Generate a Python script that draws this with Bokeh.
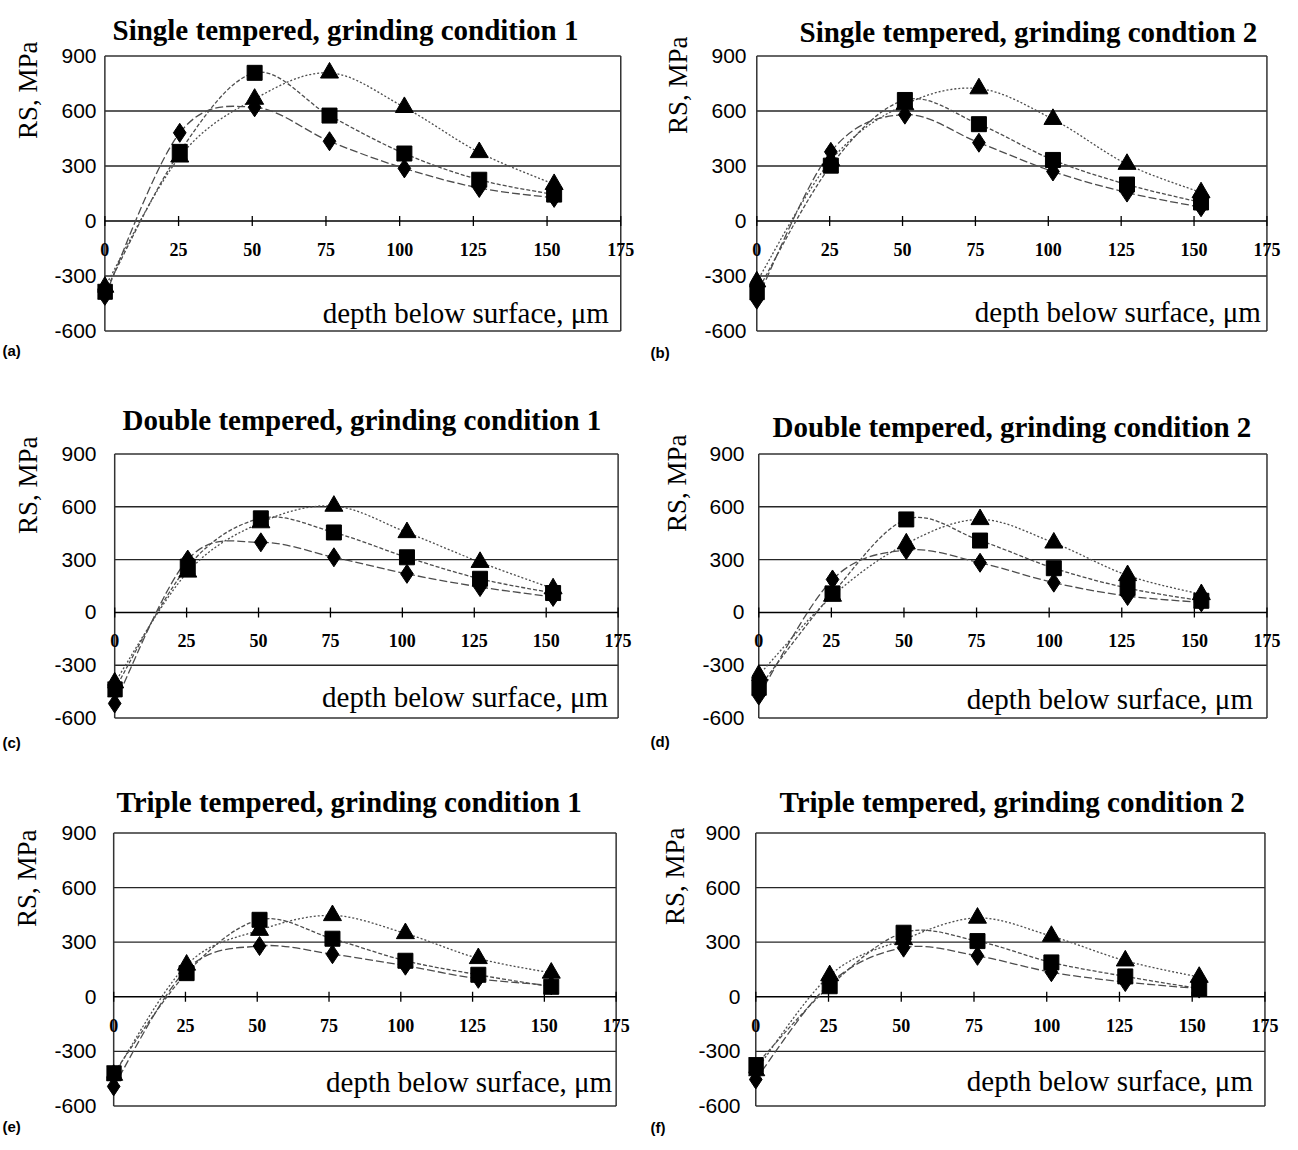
import math
from bokeh.plotting import figure
from bokeh.layouts import column, row
from bokeh.models import Range1d, FixedTicker, Title, Label, LabelSet, ColumnDataSource
from bokeh.embed import file_html
from bokeh.resources import INLINE

# ---------------- data ----------------
depth_um = [0, 25.4, 50.8, 76.2, 101.6, 127.0, 152.4]
x_ticks = [0, 25, 50, 75, 100, 125, 150, 175]
y_ticks = [-600, -300, 0, 300, 600, 900]

titles = [
    "Single tempered, grinding condition 1",
    "Single tempered, grinding condtion 2",
    "Double tempered, grinding condition 1",
    "Double tempered, grinding condition 2",
    "Triple tempered, grinding condition 1",
    "Triple tempered, grinding condition 2",
]
panel_tags = ["(a)", "(b)", "(c)", "(d)", "(e)", "(f)"]
y_label = "RS, MPa"
x_label = "depth below surface, \u03bcm"

a_diamond = [-408, 481, 620, 435, 287, 180, 126]
a_square = [-386, 377, 808, 575, 368, 225, 144]
a_triangle = [-360, 350, 665, 808, 620, 374, 200]

b_diamond = [-429, 377, 580, 427, 270, 155, 75]
b_square = [-388, 302, 660, 528, 333, 199, 101]
b_triangle = [-331, 330, 635, 722, 555, 310, 155]

c_diamond = [-517, 300, 398, 313, 219, 144, 88]
c_square = [-437, 260, 534, 454, 313, 191, 110]
c_triangle = [-399, 230, 510, 604, 454, 285, 135]

d_diamond = [-472, 187, 354, 282, 169, 93, 57]
d_square = [-428, 108, 528, 408, 251, 138, 66]
d_triangle = [-356, 93, 390, 528, 395, 210, 102]

e_diamond = [-492, 150, 279, 234, 171, 99, 63]
e_square = [-420, 130, 423, 319, 198, 121, 55]
e_triangle = [-430, 175, 366, 447, 348, 211, 131]

f_diamond = [-454, 72, 270, 225, 135, 81, 45]
f_square = [-375, 58, 352, 306, 189, 112, 45]
f_triangle = [-405, 117, 315, 433, 333, 198, 108]

series = [
    (a_diamond, a_square, a_triangle),
    (b_diamond, b_square, b_triangle),
    (c_diamond, c_square, c_triangle),
    (d_diamond, d_square, d_triangle),
    (e_diamond, e_square, e_triangle),
    (f_diamond, f_square, f_triangle),
]

# ---------------- layout (page pixel positions) ----------------
# ox/oy: figure origin; L,R,T,B: plot box; tlx/tbase: title left x / baseline;
# ylr/ylt: y-label right / top; ytr: y tick label right; tagt: tag top;
# xr/xb: x-label right / baseline
layout = [
    dict(ox=0, oy=0, w=648, h=383, L=104, R=620, T=55, B=333, tlx=112, tbase=32,
         ylr=39, ylt=42, ytr=96, tagt=347, xr=608, xb=325),
    dict(ox=648, oy=0, w=648, h=383, L=756, R=1266, T=50, B=331, tlx=799, tbase=32,
         ylr=689, ylt=32, ytr=746, tagt=348, xr=1260, xb=322),
    dict(ox=0, oy=383, w=648, h=380, L=114, R=618, T=453, B=719, tlx=122, tbase=423,
         ylr=39, ylt=437, ytr=96, tagt=743, xr=608, xb=708),
    dict(ox=648, oy=383, w=648, h=380, L=758, R=1266, T=440, B=718, tlx=772, tbase=421,
         ylr=689, ylt=422, ytr=744, tagt=740, xr=1252, xb=709),
    dict(ox=0, oy=763, w=648, h=381, L=113, R=616, T=832, B=1109, tlx=116, tbase=807,
         ylr=37, ylt=830, ytr=96, tagt=1124, xr=612, xb=1095),
    dict(ox=648, oy=763, w=648, h=381, L=755, R=1264, T=829, B=1107, tlx=779, tbase=805,
         ylr=689, ylt=825, ytr=740, tagt=1124, xr=1252, xb=1092),
]

XPAD_L, XPAD_R, YPAD = 2.5, 5.0, 8.0
SERIF = "Liberation Serif"
SANS = "Liberation Sans"
LINE_COL = "#4d4d4d"
YTICK_W = 42  # approx width of "-600" at 21px
TITLE_H = 36  # approx height the 29px title needs


def smooth_segments(xs, ys):
    n = len(xs)
    out = dict(x0=[], y0=[], x1=[], y1=[], cx0=[], cy0=[], cx1=[], cy1=[])
    for i in range(n - 1):
        ip = max(i - 1, 0)
        inn = min(i + 2, n - 1)
        out["x0"].append(xs[i]); out["y0"].append(ys[i])
        out["x1"].append(xs[i + 1]); out["y1"].append(ys[i + 1])
        out["cx0"].append(xs[i] + (xs[i + 1] - xs[ip]) / 6.0)
        out["cy0"].append(ys[i] + (ys[i + 1] - ys[ip]) / 6.0)
        out["cx1"].append(xs[i + 1] - (xs[inn] - xs[i]) / 6.0)
        out["cy1"].append(ys[i + 1] - (ys[inn] - ys[i]) / 6.0)
    return ColumnDataSource(out)


def make_panel(k):
    G = layout[k]
    ox, oy, w, h = G["ox"], G["oy"], G["w"], G["h"]
    xspan = x_ticks[-1] - x_ticks[0]
    yspan = y_ticks[-1] - y_ticks[0]
    ppx = (G["R"] - G["L"]) / xspan
    ppy = (G["B"] - G["T"]) / yspan
    fl = round(G["L"] - ox - XPAD_L * ppx)
    fr = round(G["R"] - ox + XPAD_R * ppx)
    ft = round(G["T"] - oy - YPAD * ppy)
    fb = round(G["B"] - oy + YPAD * ppy)

    p = figure(width=w, height=h, output_backend="svg", toolbar_location=None,
               x_range=Range1d(x_ticks[0] - XPAD_L, x_ticks[-1] + XPAD_R),
               y_range=Range1d(y_ticks[0] - YPAD, y_ticks[-1] + YPAD),
               min_border_left=fl, min_border_right=w - fr,
               min_border_top=ft, min_border_bottom=h - fb,
               title=titles[k])
    p.background_fill_color = "white"
    p.border_fill_color = "white"
    p.outline_line_color = None

    # main title
    p.title.align = "left"
    p.title.offset = (G["tlx"] - ox) - fl
    p.title.standoff = max(0, min(ft - (G["tbase"] - oy) + 4, ft - TITLE_H))
    p.title.text_font = SERIF
    p.title.text_font_size = "29px"
    p.title.text_font_style = "bold"
    p.title.text_color = "black"

    # y axis (left)
    ylst = max(0, fl - (G["ytr"] - ox))
    p.yaxis.ticker = FixedTicker(ticks=y_ticks)
    p.yaxis.major_label_overrides = {t: str(t) for t in y_ticks}
    p.yaxis.axis_line_color = None
    p.yaxis.major_tick_line_color = None
    p.yaxis.major_tick_in = 0
    p.yaxis.major_tick_out = 0
    p.yaxis.minor_tick_line_color = None
    p.yaxis.minor_tick_out = 0
    p.yaxis.major_label_standoff = ylst
    p.yaxis.major_label_text_font = SANS
    p.yaxis.major_label_text_font_size = "21px"
    p.yaxis.major_label_text_color = "black"

    # x axis drawn along the zero line inside the box
    p.xaxis.visible = False
    p.xgrid.grid_line_color = None
    p.ygrid.grid_line_color = None

    # box and horizontal rules
    inner = [t for t in y_ticks if t not in (0, y_ticks[0], y_ticks[-1])]
    p.segment(x0=[x_ticks[0]] * len(inner), x1=[x_ticks[-1]] * len(inner), y0=inner, y1=inner,
              line_color="#262626", line_width=1.3)
    edges = [y_ticks[0], y_ticks[-1]]
    p.segment(x0=[x_ticks[0]] * 2, x1=[x_ticks[-1]] * 2, y0=edges, y1=edges,
              line_color="#333333", line_width=1.5)
    p.segment(x0=[x_ticks[0], x_ticks[-1]], x1=[x_ticks[0], x_ticks[-1]],
              y0=[y_ticks[0]] * 2, y1=[y_ticks[-1]] * 2, line_color="#333333", line_width=1.5)
    p.segment(x0=[x_ticks[0]], x1=[x_ticks[-1]], y0=[0], y1=[0], line_color="black", line_width=1.5)
    p.scatter(x=x_ticks, y=[0] * len(x_ticks), marker="dash", angle=math.pi / 2, size=10,
              line_color="black", line_width=1.3)
    tick_src = ColumnDataSource(dict(x=x_ticks, y=[0] * len(x_ticks),
                                     t=[str(v) for v in x_ticks]))
    p.add_layout(LabelSet(x="x", y="y", text="t", source=tick_src, y_offset=-22,
                          text_align="center", text_baseline="top", text_font=SERIF,
                          text_font_size="18px", text_font_style="bold",
                          text_color="black"))

    # y-axis title on the left, top aligned
    axis_left = fl - ylst - YTICK_W
    yst = max(0, axis_left - (G["ylr"] - ox - 2))
    p.add_layout(Title(text=y_label, align="right", offset=(G["ylt"] - oy) - ft - 1, standoff=yst,
                       text_font=SERIF, text_font_size="27px", text_font_style="normal",
                       text_color="black"), "left")
    # panel tag
    p.add_layout(Title(text=panel_tags[k], align="left", offset=-fl + 2,
                       standoff=max(0, (G["tagt"] - oy) - fb + 2),
                       text_font=SANS, text_font_size="15px", text_font_style="bold",
                       text_color="black"), "below")

    # x-axis title inside the box (bottom of text box = baseline + descent)
    p.add_layout(Label(x=(G["xr"] - G["L"]) / ppx + x_ticks[0],
                       y=y_ticks[0] + (G["B"] - G["xb"] - 6) / ppy,
                       text=x_label, text_align="right", text_baseline="bottom",
                       text_font=SERIF, text_font_size="29px", text_color="black"))

    dia, sq, tri = series[k]
    styles = [(dia, "diamond", 19, "8 3"), (sq, "square", 15, "4 2"), (tri, "triangle", 18, "2 2")]
    for vals, mk, size, dash in styles:
        src = smooth_segments(depth_um, vals)
        p.bezier(x0="x0", y0="y0", x1="x1", y1="y1", cx0="cx0", cy0="cy0",
                 cx1="cx1", cy1="cy1", source=src, line_color=LINE_COL,
                 line_width=1.3, line_dash=dash)
    for vals, mk, size, dash in styles:
        p.scatter(depth_um, vals, marker=mk, size=size, fill_color="black",
                  line_color="black")
    return p


panels = [make_panel(k) for k in range(6)]
page = column(row(panels[0], panels[1]), row(panels[2], panels[3]), row(panels[4], panels[5]))

open("out.html", "w").write(file_html(page, INLINE))
